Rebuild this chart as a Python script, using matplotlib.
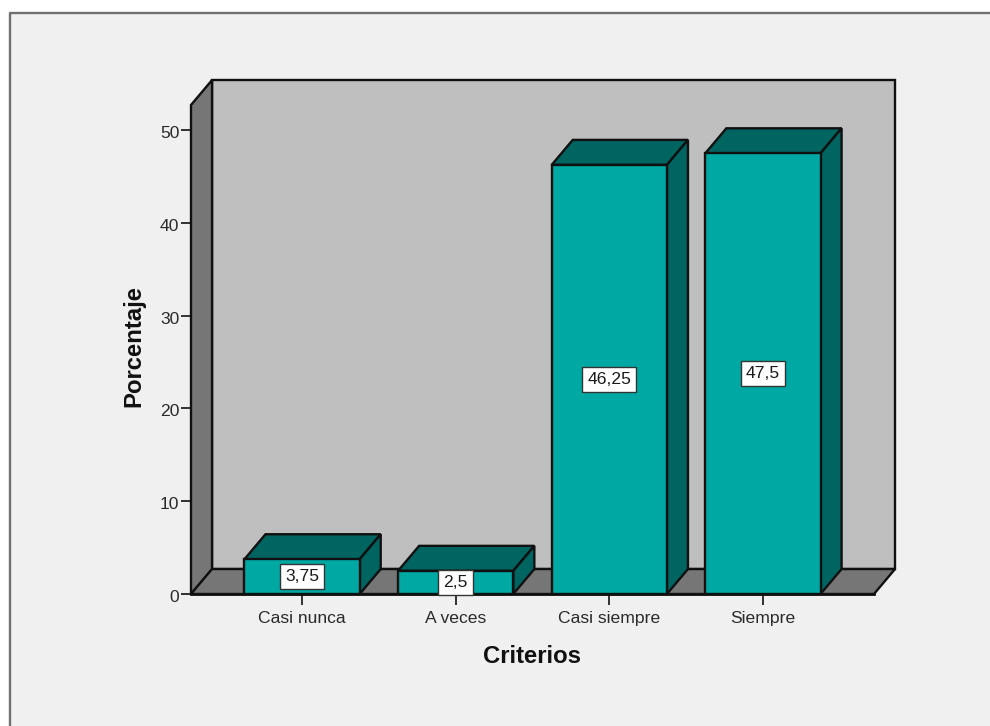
# plot.py
# Bar chart with an SPSS-style 3D box: side walls, floor and extruded bars.

import matplotlib
matplotlib.use("Agg")
import matplotlib.pyplot as plt
from matplotlib.patches import Polygon, Rectangle
from matplotlib.transforms import ScaledTranslation

plt.rcParams['font.family'] = ['Liberation Sans', 'DejaVu Sans']

categories = ['Casi nunca', 'A veces', 'Casi siempre', 'Siempre']
values = [3.75, 2.5, 46.25, 47.5]
value_labels = ['3,75', '2,5', '46,25', '47,5']
y_ticks = [0, 10, 20, 30, 40, 50]

FIG_W, FIG_H = 990, 726
BAR_WIDTH = 0.75
DEPTH_X = 0.137   # extrusion, in category units
DEPTH_Y = 2.69    # extrusion, in percent units
Y_TOP = 52.7
X_LEFT, X_RIGHT = -0.723, 3.723

FRONT = '#00a8a4'
DARK = '#006461'
WALL = '#bfbfbf'
SIDE = '#767676'
EDGE = '#101010'
PANEL = '#f0f0f0'


def poly(ax, pts, color, z, lw=1.7):
    ax.add_patch(Polygon(pts, closed=True, facecolor=color, edgecolor=EDGE,
                         linewidth=lw, joinstyle='miter', clip_on=False, zorder=z))


fig = plt.figure(figsize=(FIG_W / 100, FIG_H / 100), dpi=100, facecolor='white')

# Panel behind the chart, with a grey line on its top and left edges
panel_x, panel_y = 10 / FIG_W, 1 - 13 / FIG_H
fig.add_artist(Rectangle((panel_x, 0), 1 - panel_x, panel_y, transform=fig.transFigure,
                         facecolor=PANEL, edgecolor='none', zorder=-2))
fig.add_artist(plt.Line2D([panel_x, panel_x, 1], [0, panel_y, panel_y], color='#707070',
                          linewidth=1.7, transform=fig.transFigure, zorder=-1))

ax = fig.add_axes([191 / FIG_W, 1 - 594 / FIG_H, 683 / FIG_W, 489 / FIG_H])
ax.set_xlim(X_LEFT, X_RIGHT)
ax.set_ylim(0, Y_TOP)
ax.patch.set_visible(False)
for side in ['top', 'right', 'bottom', 'left']:
    ax.spines[side].set_visible(False)

# Back wall, left wall and floor of the box
poly(ax, [(X_LEFT + DEPTH_X, DEPTH_Y), (X_RIGHT + DEPTH_X, DEPTH_Y),
          (X_RIGHT + DEPTH_X, Y_TOP + DEPTH_Y), (X_LEFT + DEPTH_X, Y_TOP + DEPTH_Y)], WALL, 1)
poly(ax, [(X_LEFT, 0), (X_LEFT + DEPTH_X, DEPTH_Y),
          (X_LEFT + DEPTH_X, Y_TOP + DEPTH_Y), (X_LEFT, Y_TOP)], SIDE, 2)
poly(ax, [(X_LEFT, 0), (X_RIGHT, 0), (X_RIGHT + DEPTH_X, DEPTH_Y),
          (X_LEFT + DEPTH_X, DEPTH_Y)], SIDE, 2)

# Bars: top and side faces first, then the front face
for i, v in enumerate(values):
    x0 = i - BAR_WIDTH / 2
    x1 = i + BAR_WIDTH / 2
    poly(ax, [(x0, v), (x1, v), (x1 + DEPTH_X, v + DEPTH_Y), (x0 + DEPTH_X, v + DEPTH_Y)], DARK, 3)
    poly(ax, [(x1, 0), (x1 + DEPTH_X, DEPTH_Y), (x1 + DEPTH_X, v + DEPTH_Y), (x1, v)], DARK, 3)
    ax.bar(i, v, width=BAR_WIDTH, color=FRONT, edgecolor=EDGE, linewidth=1.7, zorder=4,
           clip_on=False)
    ax.text(i, v / 2, value_labels[i], ha='center', va='center', fontsize=12.6, color='#1a1a1a',
            zorder=6, bbox=dict(boxstyle='square,pad=0.3', facecolor='white',
                                edgecolor='#333333', linewidth=1.0))

# Front baseline on top of the box
ax.plot([X_LEFT, X_RIGHT], [0, 0], color=EDGE, linewidth=2.0, zorder=5, clip_on=False)

ax.set_xticks(range(len(categories)))
ax.set_xticklabels(categories, fontsize=12.6, color='#2a2a2a')
ax.set_yticks(y_ticks)
ax.set_yticklabels([str(t) for t in y_ticks], fontsize=12.6, color='#2a2a2a')
ax.tick_params(axis='x', length=8, width=1.3, pad=4, color='#222222')
ax.tick_params(axis='y', length=7.5, width=1.3, pad=1, color='#222222')

# Value labels sit slightly below their tick marks
nudge = ScaledTranslation(0, -2 / 100, fig.dpi_scale_trans)
for label in ax.get_yticklabels():
    label.set_transform(label.get_transform() + nudge)

ax.set_xlabel('Criterios', fontsize=17.2, fontweight='bold', color='#111111', labelpad=14)
ax.set_ylabel('Porcentaje', fontsize=17.2, fontweight='bold', color='#111111', labelpad=10.5,
              y=0.507)

fig.savefig('out.png', dpi=100)
